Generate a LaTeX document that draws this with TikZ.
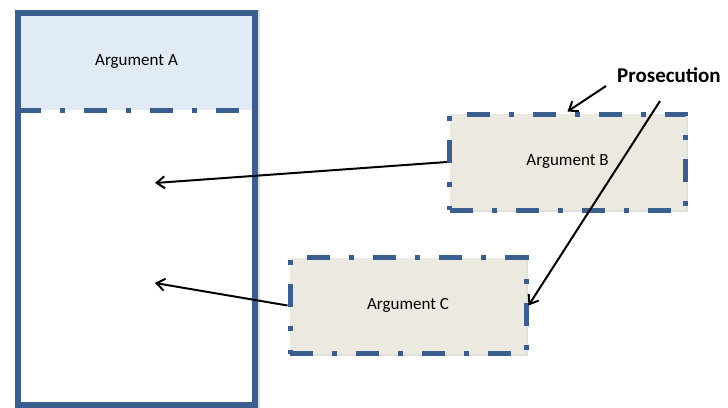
\documentclass[tikz,border=0pt]{standalone}
\usepackage{fontspec}
\setmainfont{Carlito}
\usetikzlibrary{positioning,arrows.meta,shadows}
\definecolor{frameblue}{HTML}{3A5F8F}
\definecolor{topfill}{HTML}{E1EBF5}
\definecolor{argfill}{HTML}{ECE9E0}
\tikzset{
  argbox/.style={draw=frameblue,fill=argfill,line width=5pt,dash pattern=on 23pt off 19pt on 5pt off 19pt,minimum width=236pt,minimum height=96pt,inner sep=0pt,drop shadow={opacity=0.25,shadow xshift=2pt,shadow yshift=-2pt}},
  pointer/.style={line width=2pt,-{Straight Barb[length=8pt,width=12pt,line width=2pt]}}
}
\begin{document}
\begin{tikzpicture}[x=1pt,y=-1pt,font=\fontsize{17}{20}\selectfont]
    \useasboundingbox (0,0) rectangle (728,407);
    \fill[black!25,opacity=0.5] (15,10) rectangle (260,409);
    \fill[white] (18,13) rectangle (255,405);
    \node[fill=topfill,minimum width=237pt,minimum height=97pt,inner sep=0pt] (argA) at (136.5,61.5) {Argument A};
    \draw[frameblue,line width=5pt,dash pattern=on 23pt off 19pt on 5pt off 19pt] (argA.south west)--(argA.south east);
    \draw[frameblue,line width=5.5pt] (18,13) rectangle (255,405);
    \node[argbox] (argB) at (567.5,162) {Argument B};
    \node[argbox] (argC) at (408,305.5) {Argument C};
    \node[font=\fontsize{21}{24}\selectfont\bfseries] (prosecution) at (669,75) {Prosecution};
    \coordinate (tipB) at (155,183);
    \coordinate (tipC) at (155,283);
    \coordinate (tailP) at (606,86);
    \coordinate (tailPC) at (660,101);
    \draw[pointer] (argB.west)--(tipB);
    \draw[pointer] (argC.west)--(tipC);
    \draw[pointer] (tailP)--(argB.north);
    \draw[pointer] (tailPC)--(argC.east);
\end{tikzpicture}
\end{document}
